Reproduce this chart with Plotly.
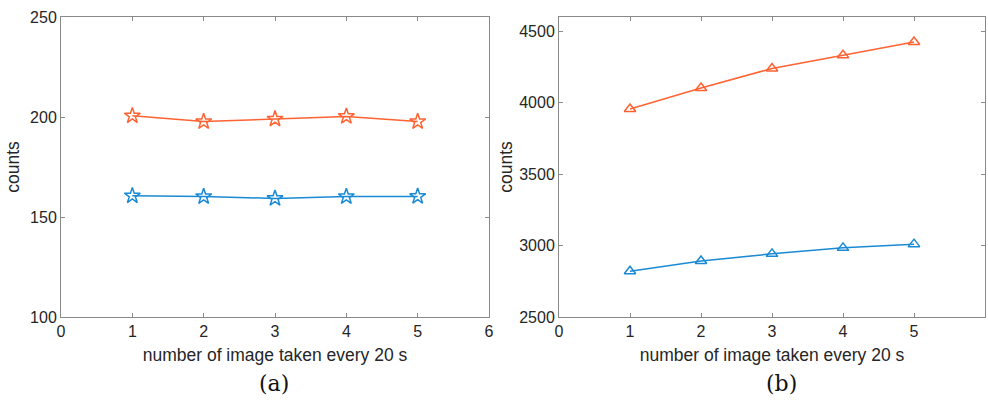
import plotly.graph_objects as go

x_images = [1, 2, 3, 4, 5]
a_orange = [200.6, 197.7, 199.0, 200.3, 197.7]
a_blue = [160.6, 160.2, 159.3, 160.2, 160.3]
b_orange = [3956, 4103, 4240, 4332, 4425]
b_blue = [2820, 2892, 2942, 2984, 3010]

x_ticks = [0, 1, 2, 3, 4, 5, 6]
a_yticks = [100, 150, 200, 250]
b_yticks = [2500, 3000, 3500, 4000, 4500]

ORANGE = "#FF6333"
BLUE = "#1A8AD4"
W, H = 988, 403

def px_x(p):
    return p / W

def px_y(p):
    return (H - p) / H

fig = go.Figure()

def add(xs, ys, color, symbol, size, xa, ya):
    fig.add_trace(go.Scatter(
        x=xs, y=ys, mode="lines+markers", xaxis=xa, yaxis=ya,
        line=dict(color=color, width=1.5),
        marker=dict(symbol=symbol, size=size, color=color,
                    line=dict(color=color, width=1.5)),
        showlegend=False))

add(x_images, a_orange, ORANGE, "star-open", 12, "x", "y")
add(x_images, a_blue, BLUE, "star-open", 12, "x", "y")
add(x_images, b_orange, ORANGE, "triangle-up-open", 10, "x2", "y2")
add(x_images, b_blue, BLUE, "triangle-up-open", 10, "x2", "y2")

ydom = [px_y(317), px_y(17)]
axis_common = dict(showline=True, linecolor="#8a8a8a", linewidth=1, mirror="ticks",
                   ticks="inside", ticklen=4, tickcolor="#8a8a8a",
                   showgrid=False, zeroline=False, automargin=False,
                   tickfont=dict(family="Liberation Sans, Arial", size=16, color="#262626"))
title_font = dict(family="Liberation Sans, Arial", size=17.5, color="#262626")
cap_font = dict(family="DejaVu Serif, Liberation Serif", size=22, color="#111")

fig.update_layout(
    width=W, height=H, margin=dict(l=0, r=0, t=0, b=0, autoexpand=False),
    paper_bgcolor="white", plot_bgcolor="white",
    xaxis=dict(domain=[px_x(61), px_x(489)], range=[0, 6], tickvals=x_ticks, anchor="y",
               title=dict(text="number of image taken every 20 s", font=title_font, standoff=9),
               **axis_common),
    yaxis=dict(domain=ydom, range=[100, 250], tickvals=a_yticks, anchor="x",
               title=dict(text="counts", font=title_font, standoff=5),
               **axis_common),
    xaxis2=dict(domain=[px_x(559), px_x(985)], range=[0, 6], tickvals=x_ticks, anchor="y2",
                title=dict(text="number of image taken every 20 s", font=title_font, standoff=9),
                **axis_common),
    yaxis2=dict(domain=ydom, range=[2500, 4600], tickvals=b_yticks, anchor="x2",
                title=dict(text="counts", font=title_font, standoff=2),
                **axis_common),
    annotations=[
        dict(text="(a)", x=px_x(274), y=px_y(383), xref="paper", yref="paper",
             xanchor="center", yanchor="middle", showarrow=False, font=cap_font),
        dict(text="(b)", x=px_x(781), y=px_y(383), xref="paper", yref="paper",
             xanchor="center", yanchor="middle", showarrow=False, font=cap_font),
    ],
)

fig.write_html("out.html", config={"displayModeBar": False},
               post_script="document.body.style.margin='0';document.body.style.overflow='hidden';")
